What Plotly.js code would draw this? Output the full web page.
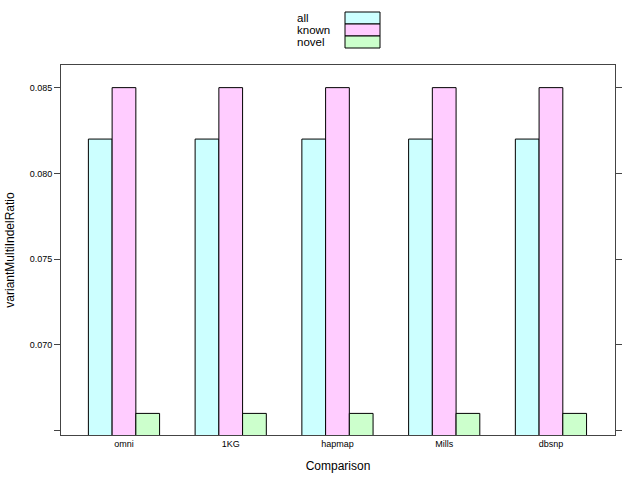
<!DOCTYPE html>
<html>
<head>
<meta charset="utf-8">
<script src="https://cdn.plot.ly/plotly-3.0.1.min.js"></script>
<style>html,body{margin:0;padding:0;background:#fff;}#chart{width:644px;height:481px;}</style>
</head>
<body>
<div id="chart"></div>
<script>
var categories = ["omni", "1KG", "hapmap", "Mills", "dbsnp"];
var seriesNames = ["all", "known", "novel"];
var allValues = [0.0820, 0.0820, 0.0820, 0.0820, 0.0820];
var knownValues = [0.0850, 0.0850, 0.0850, 0.0850, 0.0850];
var novelValues = [0.0660, 0.0660, 0.0660, 0.0660, 0.0660];
var yTickVals = [0.065, 0.070, 0.075, 0.080, 0.085];
var yTickText = ["", "0.070", "0.075", "0.080", "0.085"];

var colors = ["#CCFFFF", "#FFCCFF", "#CCFFCC"];
var seriesValues = [allValues, knownValues, novelValues];

var traces = seriesNames.map(function (name, i) {
  return {
    type: "bar",
    name: name,
    x: categories,
    y: seriesValues[i],
    marker: { color: colors[i], line: { color: "#000000", width: 1 } },
    showlegend: false,
    hoverinfo: "x+y+name"
  };
});

// legend drawn as shapes + text (lattice-style key: labels left, swatches right)
var W = 644, H = 481, mL = 61, mR = 29, mT = 65, mB = 46;
var pw = W - mL - mR, ph = H - mT - mB;
function px2x(p) { return (p - mL) / pw; }
function py2y(p) { return (H - mB - p) / ph; }
var shapes = [], annotations = [];
seriesNames.forEach(function (name, i) {
  var top = 12 + i * 12, bot = top + 12;
  shapes.push({
    type: "rect", xref: "paper", yref: "paper",
    x0: px2x(345), x1: px2x(380), y0: py2y(bot), y1: py2y(top),
    fillcolor: colors[i], line: { color: "#000000", width: 1 }
  });
  annotations.push({
    xref: "paper", yref: "paper", x: px2x(295), y: py2y(top + 6),
    xanchor: "left", yanchor: "middle", showarrow: false,
    text: name, font: { size: 11.5, color: "#000000" }
  });
});

var layout = {
  width: W, height: H,
  margin: { l: mL, r: mR, t: mT, b: mB, pad: 0 },
  paper_bgcolor: "#ffffff", plot_bgcolor: "#ffffff",
  font: { family: "Liberation Sans, Arial, sans-serif", color: "#000000" },
  barmode: "group", bargap: 0.333, bargroupgap: 0,
  showlegend: false,
  xaxis: {
    type: "category", range: [-0.59, 4.6],
    showgrid: false, zeroline: false,
    showline: true, mirror: true, linecolor: "#444444", linewidth: 1,
    ticks: "", tickfont: { size: 9 },
    title: { text: "Comparison", font: { size: 12 }, standoff: 13 }
  },
  yaxis: {
    range: [0.06474, 0.08632],
    tickvals: yTickVals, ticktext: yTickText,
    showgrid: false, zeroline: false,
    showline: true, mirror: "ticks", linecolor: "#444444", linewidth: 1,
    ticks: "outside", ticklen: 6, tickcolor: "#444444",
    tickfont: { size: 9 },
    title: { text: "variantMultiIndelRatio", font: { size: 12 }, standoff: 12 }
  },
  shapes: shapes,
  annotations: annotations
};

Plotly.newPlot("chart", traces, layout, { staticPlot: true, displayModeBar: false });
</script>
</body>
</html>
